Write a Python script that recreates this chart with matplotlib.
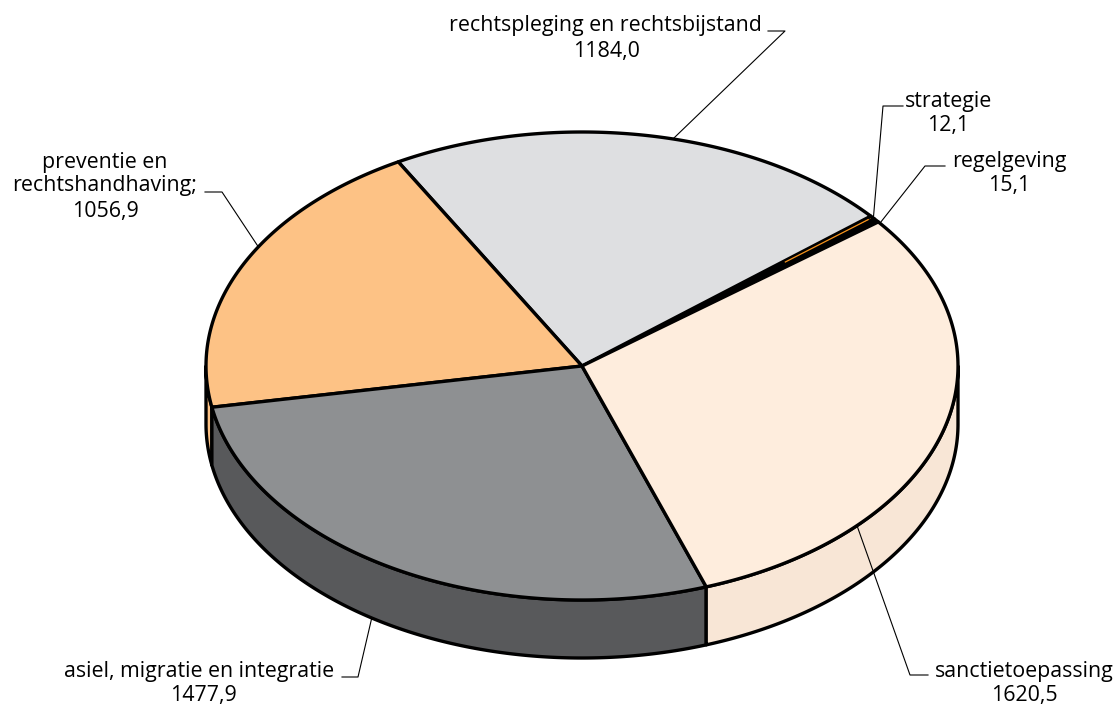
import numpy as np
import matplotlib
matplotlib.use('Agg')
import matplotlib.pyplot as plt

# begrotingsbedragen per onderdeel, tegen de klok in vanaf de start
labels = ['regelgeving', 'strategie', 'rechtspleging en rechtsbijstand',
          'preventie en\nrechtshandhaving;', 'asiel, migratie en integratie',
          'sanctietoepassing']
values = [15.1, 12.1, 1184.0, 1056.9, 1477.9, 1620.5]
value_labels = ['15,1', '12,1', '1184,0', '1056,9', '1477,9', '1620,5']
top_colors = ['#000000', '#f7941d', '#dedfe1', '#fdc285', '#8e9092', '#feeddd']
side_colors = ['#000000', '#f7941d', '#dedfe1', '#fdc285', '#58595b', '#f8e6d6']

# geometrie van de taart in pixels
cx, cy = 582, 366
rx, ry = 376, 234
depth = 58
start_angle = 38
lw = 2.4


def ellipse(angles, drop=0):
    rad = np.radians(angles)
    return cx + rx * np.cos(rad), cy - ry * np.sin(rad) + drop


fig = plt.figure(figsize=(11.19, 7.08), dpi=100)
ax = fig.add_axes([0, 0, 1, 1])
ax.set_xlim(0, 1119)
ax.set_ylim(708, 0)
ax.axis('off')

edges = start_angle + np.cumsum([0] + values) / sum(values) * 360

# zijkant: alleen de onderste helft van de ellips is zichtbaar
for i in range(len(values)):
    lo = max(edges[i], 180)
    hi = min(edges[i + 1], 360)
    if lo >= hi:
        continue
    t = np.linspace(lo, hi, 200)
    x, y = ellipse(t)
    xb, yb = ellipse(t[::-1], depth)
    ax.fill(np.r_[x, xb], np.r_[y, yb], facecolor=side_colors[i],
            edgecolor='black', linewidth=lw, joinstyle='round', zorder=2)

# bovenkant
for i in range(len(values)):
    t = np.linspace(edges[i], edges[i + 1], 200)
    x, y = ellipse(t)
    ax.fill(np.r_[cx, x], np.r_[cy, y], facecolor=top_colors[i],
            edgecolor='black', linewidth=lw, joinstyle='round', zorder=3)

# smal schijfje strategie: de kleur is alleen vlak bij de rand zichtbaar
x, y = ellipse(np.mean(edges[1:3]))
ax.plot([cx + 0.7 * (x - cx), cx + 0.985 * (x - cx)],
        [cy + 0.7 * (y - cy), cy + 0.985 * (y - cy)],
        color=top_colors[1], linewidth=0.9, zorder=4)

# verwijslijnen: hoek op de rand, extra diepte, knik, einde
leaders = [
    (37.6, 0, (925, 166), (945, 166)),
    (39.2, 0, (883, 106), (903, 106)),
    (76, 0, (785, 31), (768, 31)),
    (149.4, 0, (222, 192), (205, 192)),
    (236, depth, (358, 677), (342, 677)),
    (317, 0, (910, 675), (928, 675)),
]
for angle, drop, knee, end in leaders:
    x0, y0 = ellipse(angle, drop)
    ax.plot([x0, knee[0], end[0]], [y0, knee[1], end[1]], color='black',
            linewidth=0.8, zorder=5)

# tekstposities: label x, y en waarde x, y
text_pos = [
    (1009, 161, 1009, 186),
    (948.5, 101, 948, 125),
    (605, 25, 606, 52),
    (105, 174, 105, 212),
    (199, 671, 203, 696),
    (1024, 671, 1024.5, 696),
]
for label, val, (lx, ly, vx, vy) in zip(labels, value_labels, text_pos):
    ax.text(lx, ly, label, ha='center', va='center', fontsize=15.4,
            family='Open Sans', color='black', linespacing=1.15, zorder=6)
    ax.text(vx, vy, val, ha='center', va='center', fontsize=15.4,
            family='Open Sans', color='black', zorder=6)

fig.savefig('out.png', dpi=100)
